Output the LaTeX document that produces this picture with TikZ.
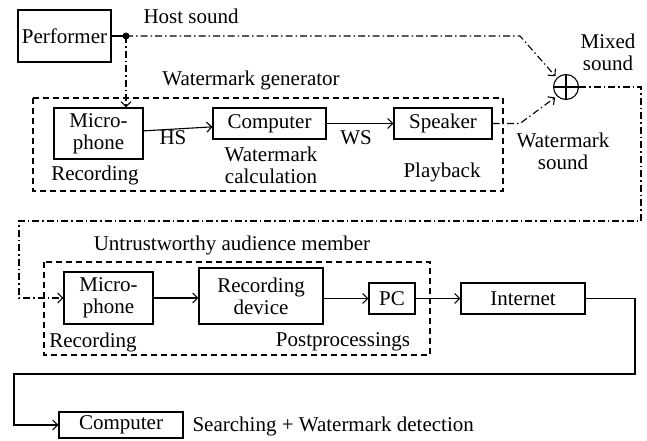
\documentclass[tikz,border=0pt]{standalone}
\usepackage{fontspec}
\setmainfont{Liberation Serif}
\usetikzlibrary{positioning}
\usetikzlibrary{arrows.meta}

\begin{document}
\begin{tikzpicture}[
    x=1pt,y=-1pt,
    line width=1.1pt,
    >={Straight Barb[length=5pt,width=10pt,line width=1.1pt]},
    every node/.style={font=\fontsize{21}{22}\selectfont},
    block/.style={draw,align=center,inner sep=0pt},
    txt/.style={align=center,inner sep=0pt},
    frame/.style={dash pattern=on 6pt off 4pt},
    sound/.style={dash pattern=on 7pt off 3pt on 1.5pt off 3pt}
  ]
  \useasboundingbox (0,0) rectangle (647,440);

  % broadcast side
  \node[block,minimum width=93pt,minimum height=52pt] (performer) at (64.5,36) {Performer};
  \node[block,minimum width=89pt,minimum height=51pt] (mic1) at (98.5,133.5) {Micro-\\phone};
  \node[block,minimum width=113pt,minimum height=31pt] (comp1) at (269.5,123.5) {Computer};
  \node[block,minimum width=98pt,minimum height=31pt] (speaker) at (443,123.5) {Speaker};
  \node[draw,circle,inner sep=0pt,minimum size=25pt] (mixer) at (566,87) {};
  \draw (mixer.north) -- (mixer.south) (mixer.west) -- (mixer.east);

  % audience side
  \node[block,minimum width=89pt,minimum height=52pt] (mic2) at (108.5,298) {Micro-\\phone};
  \node[block,minimum width=124pt,minimum height=56pt] (recdev) at (261,296) {Recording\\device};
  \node[block,minimum width=46pt,minimum height=31pt] (pc) at (392,298.5) {PC};
  \node[block,minimum width=124pt,minimum height=31pt] (internet) at (523,298.5) {Internet};
  \node[block,minimum width=124pt,minimum height=26pt] (comp2) at (121,425) {Computer};

  % frames
  \draw[frame] (33,98) rectangle (503,191);
  \draw[frame] (44,262) rectangle (430,355);

  % labels
  \node[txt,anchor=west] (hostlbl) at (143,16) {Host sound};
  \node[txt] (genlbl) at (251,80) {Watermark generator};
  \node[txt] (hslbl) at (173,138) {HS};
  \node[txt] (wslbl) at (356,138) {WS};
  \node[txt] (calclbl) at (271,165) {Watermark\\calculation};
  \node[txt] (rec1lbl) at (95,175) {Recording};
  \node[txt] (playlbl) at (442,172) {Playback};
  \node[txt] (wmsndlbl) at (563,151) {Watermark\\sound};
  \node[txt] (mixlbl) at (608,52) {Mixed\\sound};
  \node[txt] (audlbl) at (232,245) {Untrustworthy audience member};
  \node[txt] (rec2lbl) at (93,342) {Recording};
  \node[txt] (postlbl) at (343,342) {Postprocessings};
  \node[txt,anchor=west] (searchlbl) at (192,426) {Searching + Watermark detection};

  % sound paths
  \coordinate (tap) at (126,36);
  \coordinate (hostbend) at (520,36);
  \coordinate (wmbend) at (520,123.5);
  \coordinate (out1) at (641,87);
  \coordinate (out2) at (641,221);
  \coordinate (out3) at (19,221);
  \coordinate (out4) at (19,298);
  \draw (performer) -- (tap);
  \fill (tap) circle (3.5pt);
  \draw[sound,->] (tap) -- (tap |- mic1.north);
  \draw[sound,->,shorten >=2pt] (tap) -- (hostbend) -- (mixer.135);
  \draw[sound,->,shorten >=2pt] (speaker) -- (wmbend) -- (mixer.225);
  \draw[sound,->] (mixer) -- (out1) -- (out2) -- (out3) -- (out4) -- (mic2);

  % signal paths
  \draw[->] (mic1) -- (comp1);
  \draw[->] (comp1) -- (speaker);
  \draw[->] (mic2) -- (mic2 -| recdev.west);
  \draw[->] (recdev.east |- pc) -- (pc);
  \draw[->] (pc) -- (internet);
  \coordinate (net1) at (635,298.5);
  \coordinate (net2) at (635,374);
  \coordinate (net3) at (14,374);
  \coordinate (net4) at (14,425);
  \draw[->] (internet) -- (net1) -- (net2) -- (net3) -- (net4) -- (comp2);
\end{tikzpicture}
\end{document}
